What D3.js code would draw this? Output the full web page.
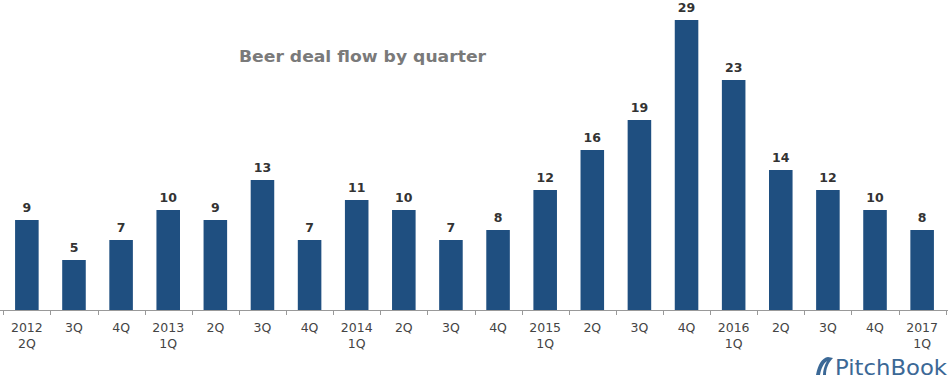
<!DOCTYPE html>
<html><head><meta charset="utf-8">
<script src="https://cdn.jsdelivr.net/npm/d3@7"></script>
<style>body{margin:0;background:#fff}svg{display:block}</style>
</head><body>
<svg id="c" width="948" height="380"></svg>
<script>
const quarters = ["2012\n2Q","3Q","4Q","2013\n1Q","2Q","3Q","4Q","2014\n1Q","2Q","3Q","4Q","2015\n1Q","2Q","3Q","4Q","2016\n1Q","2Q","3Q","4Q","2017\n1Q"];
const deals = [9,5,7,10,9,13,7,11,10,7,8,12,16,19,29,23,14,12,10,8];
const title = "Beer deal flow by quarter";

const svg = d3.select("#c");
const x = d3.scaleBand().domain(d3.range(quarters.length)).range([3.3, 945.7]).paddingInner(0.5).paddingOuter(0.25);
const y = d3.scaleLinear().domain([0, 29]).range([310, 20]);

svg.append("g").selectAll("rect").data(deals).join("rect")
  .attr("x", (d,i)=>x(i)).attr("width", x.bandwidth())
  .attr("y", d=>y(d)).attr("height", d=>y(0)-y(d))
  .attr("fill", "#1f4f80");

svg.append("g").selectAll("text").data(deals).join("text")
  .attr("x", (d,i)=>x(i)+x.bandwidth()/2).attr("y", d=>y(d)-8.5)
  .attr("text-anchor","middle").attr("font-family","DejaVu Sans, Verdana, sans-serif")
  .attr("font-weight","bold").attr("font-size","12.5px").attr("fill","#333")
  .text(d=>d);

// axis
const ticks = d3.range(quarters.length+1).map(i => 3.3 + i*((945.7-3.3)/quarters.length));
const ax = svg.append("g");
ax.append("line").attr("x1",0).attr("x2",948).attr("y1",310.5).attr("y2",310.5).attr("stroke","#999").attr("stroke-width",1);
ax.selectAll("line.t").data(ticks).join("line").attr("class","t")
  .attr("x1",d=>Math.round(d)+0.5).attr("x2",d=>Math.round(d)+0.5).attr("y1",310).attr("y2",315)
  .attr("stroke","#999");
const lbl = ax.selectAll("text").data(quarters).join("text")
  .attr("text-anchor","middle").attr("font-family","DejaVu Sans, Verdana, sans-serif")
  .attr("font-size","12.5px").attr("fill","#444");
lbl.each(function(d,i){
  const t = d3.select(this);
  d.split("\n").forEach((s,k)=>{
    t.append("tspan").attr("x", x(i)+x.bandwidth()/2).attr("y", 332+k*16).text(s);
  });
});

svg.append("text").attr("x",239).attr("y",62).attr("font-family","DejaVu Sans, Verdana, sans-serif")
  .attr("font-weight","bold").attr("font-size","16px").attr("fill","#7a7a7a")
  .attr("textLength",247).attr("lengthAdjust","spacingAndGlyphs").text(title);

// logo
const logo = svg.append("g").attr("fill","#3b6896");
logo.append("path").attr("d","M828,357 C822,358 818,364 816,375 L820,375 C821,369 823,364 827,361 C824,366 823,371 823,375 L826,375 C826,369 828,363 833,358 Z");
logo.append("text").attr("x",835).attr("y",375).attr("font-family","DejaVu Sans, Verdana, sans-serif")
  .attr("font-size","22px").attr("textLength",112).attr("lengthAdjust","spacingAndGlyphs").text("PitchBook");
</script>
</body></html>
